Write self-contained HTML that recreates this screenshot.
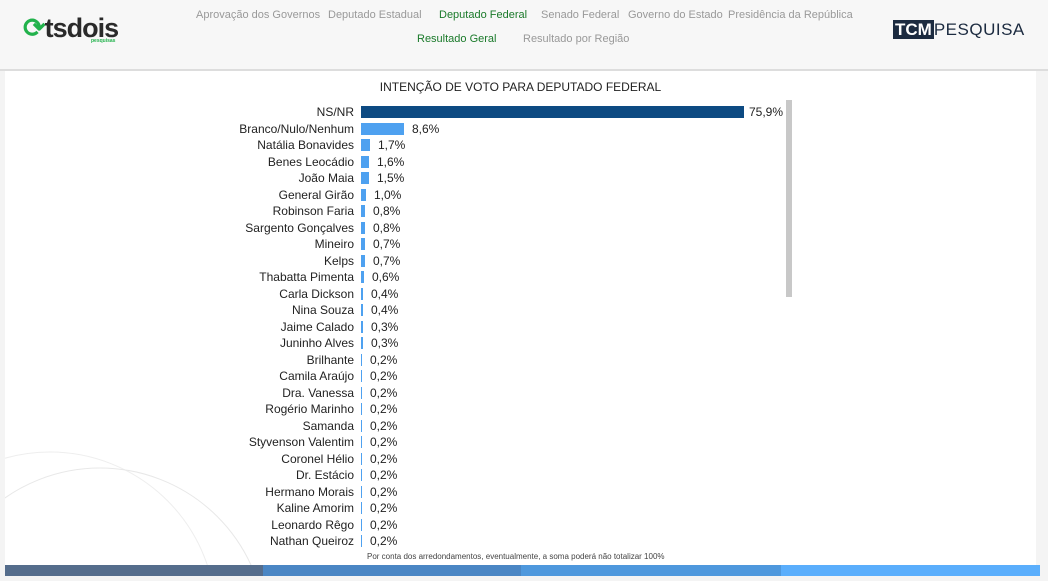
<!DOCTYPE html>
<html><head><meta charset="utf-8"><style>
html,body{margin:0;width:1048px;height:581px;overflow:hidden}
body{background:#f4f4f4;font-family:"Liberation Sans",sans-serif;position:relative}
.hdr{position:absolute;left:0;top:0;width:1048px;height:69px;background:#f7f7f7;border-bottom:2px solid #ddd}
.nav{position:absolute;font-size:11px;color:#999;white-space:nowrap}
.g{color:#1a7a2a}
.panel{position:absolute;left:5px;top:71px;width:1031px;height:494px;background:#fff;overflow:hidden}
.title{position:absolute;left:0;width:1031px;top:9px;text-align:center;font-size:12px;color:#222}
.lab{position:absolute;right:694px;font-size:12px;color:#222;white-space:nowrap;line-height:14px}
.bar{position:absolute;left:361px;height:12px;background:#4ea1f0}
.val{position:absolute;font-size:12px;color:#222;line-height:14px}
.foot{position:absolute;left:367px;top:552px;font-size:8px;color:#444}
.strip{position:absolute;top:565px;height:11px}
</style></head><body>
<div class="hdr">
<div style="position:absolute;left:23px;top:13px;font-size:27px;font-weight:bold;color:#2a2a2a;letter-spacing:-1px"><span style="color:#22b24c">&#10227;</span>tsdois</div>
<div style="position:absolute;left:91px;top:38px;font-size:5px;color:#22b24c;font-weight:bold">pesquisas</div>
<div class="nav" style="left:196px;top:9px">Aprovação dos Governos</div>
<div class="nav" style="left:328px;top:9px">Deputado Estadual</div>
<div class="nav g" style="left:439px;top:9px">Deputado Federal</div>
<div class="nav" style="left:541px;top:9px">Senado Federal</div>
<div class="nav" style="left:628px;top:9px">Governo do Estado</div>
<div class="nav" style="left:728px;top:9px">Presidência da República</div>
<div class="nav g" style="left:417px;top:33px">Resultado Geral</div>
<div class="nav" style="left:523px;top:33px">Resultado por Região</div>
<div style="position:absolute;left:893px;top:21px;height:18px;font-size:17px;line-height:18px;white-space:nowrap"><span style="background:#1c2b40;color:#fff;font-weight:bold;padding:0 2px">TCM</span><span style="color:#1c2b40;letter-spacing:0.5px">PESQUISA</span></div>
</div>
<div class="panel"><div class="title">INTENÇÃO DE VOTO PARA DEPUTADO FEDERAL</div>
<svg style="position:absolute;left:0;top:0" width="400" height="494"><circle cx="45" cy="547" r="166" fill="none" stroke="#eee"/><circle cx="95" cy="563" r="166" fill="none" stroke="#e8e8e8"/></svg>
<div style="position:absolute;left:781px;top:29px;width:6px;height:197px;background:#c8c8c8"></div>
</div>
<div id="rows"></div>
<div class="foot">Por conta dos arredondamentos, eventualmente, a soma poderá não totalizar 100%</div>
<div class="strip" style="left:5px;width:258px;background:#556d8c"></div>
<div class="strip" style="left:263px;width:258px;background:#4a86c4"></div>
<div class="strip" style="left:521px;width:260px;background:#4e98dd"></div>
<div class="strip" style="left:781px;width:259px;background:#5aaefc"></div>
<script>
var d=[["NS/NR",75.9],["Branco/Nulo/Nenhum",8.6],["Natália Bonavides",1.7],["Benes Leocádio",1.6],["João Maia",1.5],["General Girão",1.0],["Robinson Faria",0.8],["Sargento Gonçalves",0.8],["Mineiro",0.7],["Kelps",0.7],["Thabatta Pimenta",0.6],["Carla Dickson",0.4],["Nina Souza",0.4],["Jaime Calado",0.3],["Juninho Alves",0.3],["Brilhante",0.2],["Camila Araújo",0.2],["Dra. Vanessa",0.2],["Rogério Marinho",0.2],["Samanda",0.2],["Styvenson Valentim",0.2],["Coronel Hélio",0.2],["Dr. Estácio",0.2],["Hermano Morais",0.2],["Kaline Amorim",0.2],["Leonardo Rêgo",0.2],["Nathan Queiroz",0.2]];
var h="";d.forEach(function(r,i){var c=112+i*16.5;var w=Math.max(1,Math.round(r[1]*5.05));
h+='<div class="lab" style="top:'+(c-7)+'px">'+r[0]+'</div>';
h+='<div class="bar" style="top:'+(c-6)+'px;width:'+w+'px'+(i==0?';background:#0d4a82':'')+'"></div>';
h+='<div class="val" style="top:'+(c-7)+'px;left:'+(361+w+(i==0?5:8))+'px">'+r[1].toFixed(1).replace(".",",")+'%</div>';});
document.getElementById("rows").innerHTML=h;
</script>
</body></html>
